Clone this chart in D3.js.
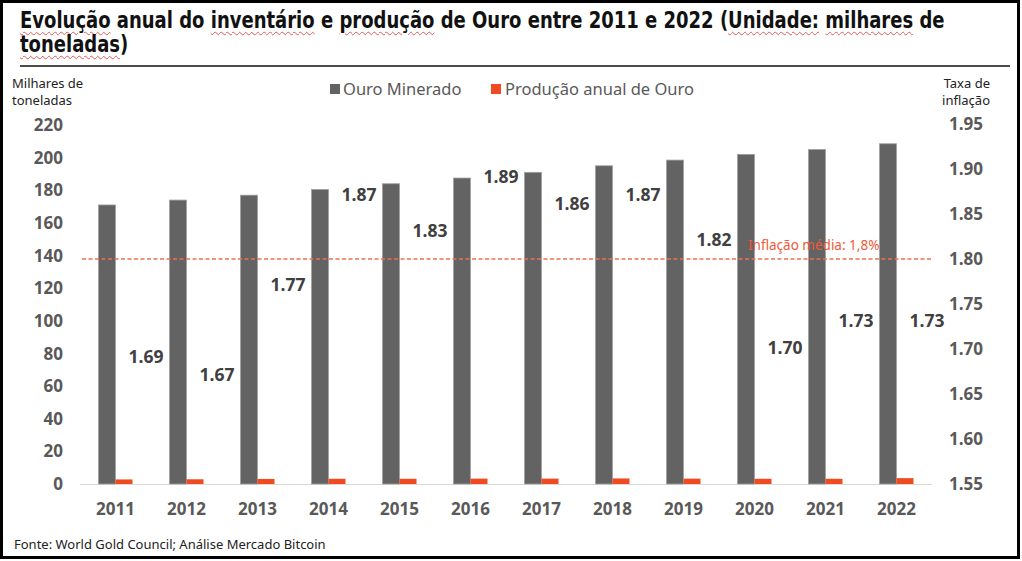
<!DOCTYPE html>
<html lang="pt">
<head>
<meta charset="utf-8">
<title>Ouro</title>
<script src="https://d3js.org/d3.v7.min.js"></script>
<style>
  body { margin: 0; background: #fff; }
  #wrap { position: relative; width: 1022px; height: 561px; overflow: hidden; }
  #title {
    position: absolute; left: 20px; top: 8px; white-space: nowrap;
    font-family: "DejaVu Sans Condensed", "Liberation Sans Narrow", sans-serif;
    font-weight: bold; font-size: 23px; line-height: 24px; color: #111;
    transform: scaleX(0.87); transform-origin: 0 0;
  }
  .sp { text-decoration: underline wavy #e05a5a 1px; text-underline-offset: 3px; }
  svg { position: absolute; left: 0; top: 0; }
</style>
</head>
<body>
<div id="wrap">
  <div id="title"><span class="sp">Evolução</span> anual do <span class="sp">inventário</span> e <span class="sp">produção</span> de Ouro entre 2011 e 2022 (<span class="sp">Unidade:</span> <span class="sp">milhares</span> de<br><span class="sp">toneladas</span>)</div>
</div>
<script>
// dados
var anos = ["2011","2012","2013","2014","2015","2016","2017","2018","2019","2020","2021","2022"];
var ouroMinerado = [171, 174, 177, 180.5, 184, 187.5, 191, 195, 198.5, 202, 205, 208.5];
var producaoAnual = [2.8, 2.9, 3.1, 3.2, 3.2, 3.3, 3.3, 3.4, 3.3, 3.2, 3.2, 3.6];
var inflacao = [1.69, 1.67, 1.77, 1.87, 1.83, 1.89, 1.86, 1.87, 1.82, 1.70, 1.73, 1.73];
var inflacaoMedia = 1.8;
var ticksEsq = [0, 20, 40, 60, 80, 100, 120, 140, 160, 180, 200, 220];
var ticksDir = [1.55, 1.60, 1.65, 1.70, 1.75, 1.80, 1.85, 1.90, 1.95];

var w = 1022, h = 561;
var svg = d3.select("#wrap").append("svg").attr("width", w).attr("height", h);

// moldura
svg.append("rect").attr("x", 1.5).attr("y", 1.5).attr("width", 1017).attr("height", 556)
   .attr("fill", "none").attr("stroke", "#000").attr("stroke-width", 3);
svg.append("line").attr("x1", 20).attr("x2", 1010).attr("y1", 66).attr("y2", 66)
   .attr("stroke", "#111").attr("stroke-width", 1.5);

var x = d3.scaleBand().domain(anos).range([80, 932]);
var y = d3.scaleLinear().domain([0, 220]).range([484, 125]);
var y2 = d3.scaleLinear().domain([1.55, 1.95]).range([484, 124]);

var numFont = "'Open Sans', 'Noto Sans', sans-serif";
var barW = 17;

// eixo esquerdo
svg.append("g").selectAll("text").data(ticksEsq).enter().append("text")
   .attr("x", 63).attr("y", function(d) { return y(d); }).attr("dy", "0.36em")
   .attr("text-anchor", "end").attr("font-family", numFont).attr("font-weight", "bold")
   .attr("font-size", 17).attr("fill", "#595959").text(function(d) { return d; });

// eixo direito
svg.append("g").selectAll("text").data(ticksDir).enter().append("text")
   .attr("x", 949).attr("y", function(d) { return y2(d); }).attr("dy", "0.36em")
   .attr("font-family", numFont).attr("font-weight", "bold")
   .attr("font-size", 17).attr("fill", "#595959").text(function(d) { return d.toFixed(2); });

// rótulos x
svg.append("g").selectAll("text").data(anos).enter().append("text")
   .attr("x", function(d) { return x(d) + x.bandwidth() / 2; }).attr("y", 509).attr("dy", "0.36em")
   .attr("text-anchor", "middle").attr("font-family", numFont).attr("font-weight", "bold")
   .attr("font-size", 17).attr("fill", "#595959").text(function(d) { return d; });

// linha base
svg.append("line").attr("x1", 80).attr("x2", 932).attr("y1", y(0) + 0.5).attr("y2", y(0) + 0.5)
   .attr("stroke", "#d9d9d9").attr("stroke-width", 1.2);

// barras
svg.append("g").selectAll("rect").data(anos).enter().append("rect")
   .attr("x", function(d) { return x(d) + x.bandwidth() / 2 - barW; })
   .attr("y", function(d, i) { return y(ouroMinerado[i]); })
   .attr("width", barW)
   .attr("height", function(d, i) { return y(0) - y(ouroMinerado[i]); })
   .attr("fill", "#636363").attr("stroke", "#a0a0a0").attr("stroke-width", 0.8);

svg.append("g").selectAll("rect").data(anos).enter().append("rect")
   .attr("x", function(d) { return x(d) + x.bandwidth() / 2; })
   .attr("y", function(d, i) { return y(producaoAnual[i]); })
   .attr("width", barW)
   .attr("height", function(d, i) { return y(0) - y(producaoAnual[i]); })
   .attr("fill", "#f04a22");

// linha média
svg.append("line").attr("x1", 82).attr("x2", 932)
   .attr("y1", y2(inflacaoMedia)).attr("y2", y2(inflacaoMedia))
   .attr("stroke", "#f07050").attr("stroke-width", 1.5).attr("stroke-dasharray", "4,2.5");
svg.append("text").attr("x", 748).attr("y", 250)
   .attr("font-family", "'Noto Sans', sans-serif").attr("font-size", 13.5)
   .attr("fill", "#f05a3a").text("Inflação média: 1,8%");

// rótulos inflação
svg.append("g").selectAll("text").data(anos).enter().append("text")
   .attr("x", function(d) { return x(d) + x.bandwidth() / 2 + 13; })
   .attr("y", function(d, i) { return y2(inflacao[i]); }).attr("dy", "0.3em")
   .attr("font-family", numFont).attr("font-weight", "bold")
   .attr("font-size", 17.5).attr("fill", "#404040")
   .text(function(d, i) { return inflacao[i].toFixed(2); });

// legenda
var leg = svg.append("g").attr("font-family", "'Noto Sans', sans-serif").attr("font-size", 16.5).attr("fill", "#595959");
leg.append("rect").attr("x", 330).attr("y", 84).attr("width", 10).attr("height", 10).attr("fill", "#636363");
leg.append("text").attr("x", 343).attr("y", 89).attr("dy", "0.35em").text("Ouro Minerado");
leg.append("rect").attr("x", 491).attr("y", 84).attr("width", 10).attr("height", 10).attr("fill", "#f04a22");
leg.append("text").attr("x", 505).attr("y", 89).attr("dy", "0.35em").text("Produção anual de Ouro");

// títulos eixos
function lab(txt, xx, yy, anchor) {
  svg.append("text").attr("x", xx).attr("y", yy).attr("text-anchor", anchor || "start")
     .attr("font-family", "'Noto Sans', sans-serif").attr("font-size", 13)
     .attr("fill", "#222").text(txt);
}
lab("Milhares de", 12, 88);
lab("toneladas", 12, 105);
lab("Taxa de", 990, 88, "end");
lab("inflação", 990, 105, "end");
lab("Fonte: World Gold Council; Análise Mercado Bitcoin", 14, 549);
</script>
</body>
</html>
